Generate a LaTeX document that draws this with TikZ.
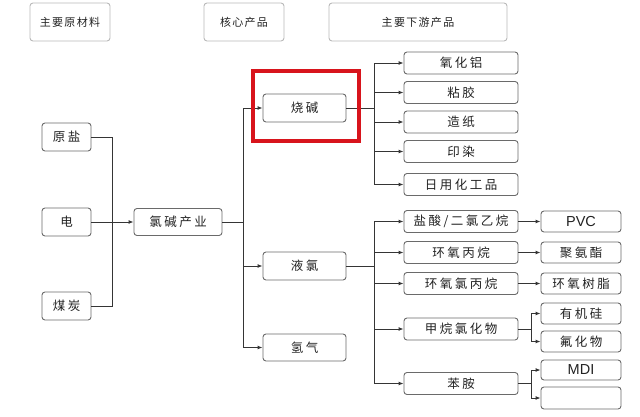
\documentclass[tikz,border=0pt]{standalone}
\usepackage{fontspec}
\usetikzlibrary{arrows.meta}
\newfontfamily\cjkbody[LetterSpace=20]{Noto Sans CJK SC}
\newfontfamily\cjkhead[LetterSpace=12]{Noto Sans CJK SC}
\newfontfamily\latinsans{Liberation Sans}
\definecolor{boxline}{HTML}{6A6A6A}
\definecolor{conn}{HTML}{353535}
\definecolor{txt}{HTML}{222222}
\definecolor{hl}{HTML}{D8141C}
\tikzset{
  x=1pt, y=-1pt,
  box/.style={draw=boxline, line width=0.9pt, rounded corners=3pt, inner sep=0pt,
    text=txt, font=\cjkbody\fontsize{12.5}{12.5}\selectfont},
  headbox/.style={box, draw=gray!55, minimum height=38pt, font=\cjkhead\fontsize{11}{11}\selectfont},
  srcbox/.style={box, minimum width=49pt, minimum height=28pt},
  corebox/.style={box, minimum width=83pt, minimum height=28pt},
  dbox/.style={box, minimum width=114pt, minimum height=22pt},
  ebox/.style={box, minimum width=80pt, minimum height=21pt},
  latinbox/.style={ebox, font=\latinsans\fontsize{14.5}{14.5}\selectfont},
  link/.style={draw=conn, line width=0.9pt},
  arr/.style={link, -{Latex[length=5pt,width=4pt]}},
}
\begin{document}
\begin{tikzpicture}
\useasboundingbox (0,0) rectangle (640,417);
% headers
\node[headbox, minimum width=80pt] (h1) at (70,22) {主要原材料};
\node[headbox, minimum width=80pt] (h2) at (244,22) {核心产品};
\node[headbox, minimum width=178pt] (h3) at (418,22) {主要下游产品};
% raw materials
\node[srcbox] (yy) at (66.5,137) {原盐};
\node[srcbox] (dian) at (66.5,222) {电};
\node[srcbox] (mt) at (66.5,306) {煤炭};
\node[box, minimum width=88pt, minimum height=27pt] (lj) at (178,222) {氯碱产业};
% core products
\node[corebox] (sj) at (304.5,108) {烧碱};
\node[corebox] (yl) at (304.5,266) {液氯};
\node[corebox, minimum height=27pt] (qq) at (304.5,347.5) {氢气};
% downstream of 烧碱
\node[dbox] (d1) at (461,63) {氧化铝};
\node[dbox] (d2) at (461,92.5) {粘胶};
\node[dbox] (d3) at (461,122) {造纸};
\node[dbox] (d4) at (461,151.5) {印染};
\node[dbox] (d5) at (461,184.5) {日用化工品};
% downstream of 液氯
\node[dbox] (c1) at (461,221.5) {盐酸/二氯乙烷};
\node[dbox] (c2) at (461,252.5) {环氧丙烷};
\node[dbox] (c3) at (461,283.5) {环氧氯丙烷};
\node[dbox] (c4) at (461,329) {甲烷氯化物};
\node[dbox] (c5) at (461,383.5) {苯胺};
\node[latinbox] (e1) at (581,221.5) {PVC};
\node[ebox] (e2) at (581,252.5) {聚氨酯};
\node[ebox] (e3) at (581,283.5) {环氧树脂};
\node[ebox] (e4) at (581,313.5) {有机硅};
\node[ebox] (e5) at (581,341.5) {氟化物};
\node[latinbox, minimum height=20pt] (e6) at (581,370) {MDI};
\node[ebox, minimum height=22pt] (e7) at (581,398) {};
% junctions
\coordinate (j1) at (112,222);
\coordinate (j2) at (243,222);
\coordinate (j3) at (374,108);
\coordinate (j4) at (374,266);
\coordinate (j5) at (531,329);
\coordinate (j6) at (531,383.5);
% connectors
\draw[link] (yy.east) -| (j1);
\draw[link] (mt.east) -| (j1);
\draw[arr] (dian.east) -- (lj.west);
\draw[link] (lj.east) -- (j2);
\draw[arr] (j2) |- (sj.west);
\draw[arr] (j2) |- (yl.west);
\draw[arr] (j2) |- (qq.west);
\draw[link] (sj.east) -- (j3);
\foreach \n in {d1,d2,d3,d4,d5} \draw[arr] (j3) |- (\n.west);
\draw[link] (yl.east) -- (j4);
\foreach \n in {c1,c2,c3,c4,c5} \draw[arr] (j4) |- (\n.west);
\draw[arr] (c1.east) -- (e1.west);
\draw[arr] (c2.east) -- (e2.west);
\draw[arr] (c3.east) -- (e3.west);
\draw[link] (c4.east) -- (j5);
\draw[arr] (j5) |- (e4.west);
\draw[arr] (j5) |- (e5.west);
\draw[link] (c5.east) -- (j6);
\draw[arr] (j6) |- (e6.west);
\draw[arr] (j6) |- (e7.west);
% highlight
\node[draw=hl, line width=4pt, inner sep=0pt, minimum width=106pt, minimum height=70pt] (hlbox) at (306,106) {};
\end{tikzpicture}
\end{document}
